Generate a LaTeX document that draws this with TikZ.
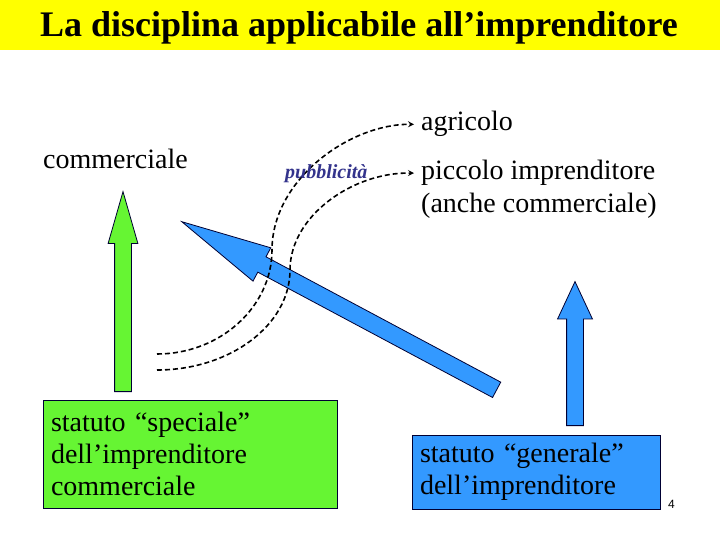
\documentclass[tikz,border=0pt]{standalone}
\usepackage{fontspec}
\setmainfont{Liberation Serif}
\setsansfont{Liberation Sans}
\usetikzlibrary{shapes.arrows}
\definecolor{titleyellow}{RGB}{255,255,0}
\definecolor{boxgreen}{RGB}{102,245,51}
\definecolor{boxblue}{RGB}{51,153,255}
\definecolor{pubblue}{RGB}{51,51,140}
\definecolor{edgeblue}{RGB}{0,0,51}
\newcommand{\bodysize}{\fontsize{28}{32}\selectfont}
\tikzset{
	label text/.style={anchor=base west, inner sep=0pt, font=\bodysize},
	statuto box/.style={draw=edgeblue, line width=0.8pt, rectangle, align=left, font=\bodysize, inner xsep=8pt, inner ysep=0pt},
	fat arrow/.style={single arrow, draw=edgeblue, line width=0.8pt, inner xsep=0pt, inner ysep=8pt, single arrow head indent=0pt, anchor=tail},
	link/.style={->, >=stealth, line width=1.6pt, dash pattern=on 5pt off 3pt, shorten >=7pt}
}

\begin{document}
\begin{tikzpicture}[x=1pt, y=-1pt]
				\useasboundingbox (0,0) rectangle (720,540);
				\fill[white] (0,0) rectangle (720,540);
				\fill[titleyellow] (0,0) rectangle (720,50);
				\node[anchor=base, inner sep=0pt, font=\fontsize{36}{40}\selectfont\bfseries] (title) at (359,37) {La disciplina applicabile all’imprenditore};
				\node[label text] (comm) at (43,169) {commerciale};
				\node[label text] (agri) at (421,131) {agricolo};
				\node[label text] (picc) at (421,180) {piccolo imprenditore};
				\node[label text] (picc2) at (421,213) {(anche commerciale)};
				\node[statuto box, fill=boxgreen, minimum width=294pt, minimum height=108pt, text width=278pt] (gbox) at (190,454) {statuto “speciale”\\dell’imprenditore\\commerciale};
				\node[statuto box, fill=boxblue, minimum width=248pt, minimum height=74pt, text width=232pt] (bbox) at (536,472) {statuto “generale”\\dell’imprenditore};
				\node[anchor=base west, inner sep=0pt, font=\sffamily\fontsize{12}{14}\selectfont] (pagenum) at (668,508) {4};
				\node[fat arrow, fill=boxgreen, rotate=90, minimum height=200pt, single arrow head extend=6.5pt, single arrow tip angle=32] (garrow) at (123,392) {};
				\node[fat arrow, fill=boxblue, rotate=90, minimum height=144pt, single arrow head extend=9pt, single arrow tip angle=50] (barrow) at (575,426) {};
				\node[fat arrow, fill=boxblue, rotate=151.9, minimum height=357pt, inner ysep=8.3pt, single arrow head extend=10.2pt, single arrow tip angle=23.5] (darrow) at (497,390) {};
				\coordinate (sa) at (157,354);
				\coordinate (sb) at (157,370);
				\draw[link] (sa) .. controls (220,354) and (272,307) .. (272,250) .. controls (272,180) and (349,124) .. (agri.west);
				\draw[link] (sb) .. controls (230,370) and (290,325) .. (290,270) .. controls (290,216) and (353,172) .. (picc.west);
				\node[anchor=base west, inner sep=0pt, font=\fontsize{20}{24}\selectfont\bfseries\itshape, text=pubblue] (pubb) at (285,179) {pubblicità};
			\end{tikzpicture}
\end{document}
